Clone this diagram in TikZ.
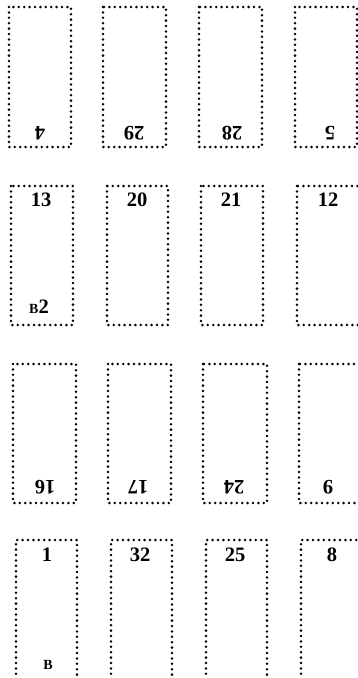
\documentclass[tikz,border=0pt]{standalone}
\usepackage{fontspec}
\setmainfont{Liberation Serif}
\begin{document}
\begin{tikzpicture}[x=1pt,y=-1pt,
  pagebox/.style={line width=2.8pt, line cap=round, dash pattern=on 0pt off 5.4pt},
  num/.style={font=\fontsize{20.5}{20.5}\selectfont\bfseries, inner sep=0pt},
  flip/.style={num, rotate=180},
  sig/.style={font=\fontsize{14}{14}\selectfont\bfseries, inner sep=0pt}]
\useasboundingbox (0,0) rectangle (358,678);
\clip (0,0) rectangle (358,678);
% row 1
\draw[pagebox] (9,7) rectangle (71,147);
\draw[pagebox] (103,7) rectangle (166,147);
\draw[pagebox] (199,7) rectangle (262,147);
\draw[pagebox] (295,7) rectangle (357,147);
\node[flip] (p4) at (40,133) {4};
\node[flip] (p29) at (134,133) {29};
\node[flip] (p28) at (232,133) {28};
\node[flip] (p5) at (330,133) {5};
% row 2
\draw[pagebox] (11,186) rectangle (73,325);
\draw[pagebox] (107,186) rectangle (168,325);
\draw[pagebox] (201,186) rectangle (263,325);
\draw[pagebox] (297,186) rectangle (361,325);
\node[num] (p13) at (41,200) {13};
\node[num] (p20) at (137,200) {20};
\node[num] (p21) at (231,200) {21};
\node[num] (p12) at (328,200) {12};
\node[num, anchor=base] (s2) at (39,313) {{\fontsize{14}{14}\selectfont B}2};
% row 3
\draw[pagebox] (13,364) rectangle (76,503);
\draw[pagebox] (108,364) rectangle (171,503);
\draw[pagebox] (203,364) rectangle (267,503);
\draw[pagebox] (299,364) rectangle (363,503);
\node[flip] (p16) at (45,487) {16};
\node[flip] (p17) at (138,487) {17};
\node[flip] (p24) at (234,487) {24};
\node[flip] (p9) at (328,487) {9};
% row 4
\draw[pagebox] (16,690) -- (16,540) -- (77,540) -- (77,690);
\draw[pagebox] (111,690) -- (111,540) -- (172,540) -- (172,690);
\draw[pagebox] (206,690) -- (206,540) -- (267,540) -- (267,690);
\draw[pagebox] (301,690) -- (301,540) -- (364,540);
\node[num] (p1) at (47,555) {1};
\node[num] (p32) at (140,555) {32};
\node[num] (p25) at (235,555) {25};
\node[num] (p8) at (332,555) {8};
\node[sig] (s1) at (48,665) {B};
\end{tikzpicture}
\end{document}
